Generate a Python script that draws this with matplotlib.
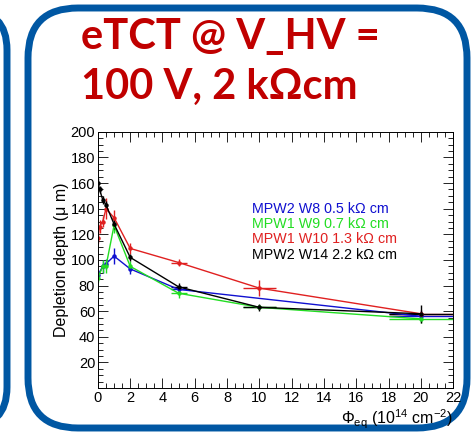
import numpy as np
import matplotlib.pyplot as plt
from matplotlib.patches import FancyBboxPatch
from matplotlib.ticker import MultipleLocator

plt.rcParams['font.family'] = ['Liberation Sans', 'DejaVu Sans']
plt.rcParams['mathtext.fontset'] = 'custom'
plt.rcParams['mathtext.rm'] = 'Liberation Sans'
plt.rcParams['mathtext.it'] = 'Liberation Sans:italic'

# ---- data ----
w8_x = [0, 0.3, 0.5, 1, 2, 5, 20]
w8_y = [88, 95, 97, 103, 93, 77, 56]
w8_yerr = [4, 5, 4, 6, 4, 3, 4]
w8_xerr = [0, 0, 0, 0, 0, 0.5, 2]

w9_x = [0, 0.3, 0.5, 1, 2, 5, 10, 20]
w9_y = [86, 95, 95, 127, 95, 74, 63, 54]
w9_yerr = [3, 5, 5, 6, 4, 4, 2, 3]
w9_xerr = [0, 0, 0, 0, 0, 0.5, 1, 2]

w10_x = [0, 0.1, 0.3, 0.5, 1, 2, 5, 10, 20]
w10_y = [117, 126, 130, 140, 133, 109, 98, 78, 58]
w10_yerr = [4, 5, 4, 8, 6, 4, 3, 6, 3]
w10_xerr = [0, 0, 0, 0, 0, 0, 0.5, 1, 2]

w14_x = [0, 0.1, 0.3, 0.5, 1, 2, 5, 10, 20]
w14_y = [160, 155, 147, 143, 128, 102, 79, 63, 58]
w14_yerr = [4, 3, 3, 3, 4, 3, 3, 3, 7]
w14_xerr = [0, 0, 0, 0, 0, 0, 0.5, 1, 2]

labels = ['MPW2 W8 0.5 k\u03a9 cm', 'MPW1 W9 0.7 k\u03a9 cm',
          'MPW1 W10 1.3 k\u03a9 cm', 'MPW2 W14 2.2 k\u03a9 cm']
colors = ['#1010d0', '#22dd22', '#e02020', '#000000']

fig = plt.figure(figsize=(4.73, 4.38), dpi=100)

# overlay in pixel coords for the rounded frames and title
bg = fig.add_axes([0, 0, 1, 1])
bg.set_xlim(0, 473)
bg.set_ylim(438, 0)
bg.axis('off')
frame_col = '#0057a3'
bg.add_patch(FancyBboxPatch((-60, 10), 67, 417, boxstyle='round,pad=0,rounding_size=40',
                            fill=False, ec=frame_col, lw=5))
bg.add_patch(FancyBboxPatch((28, 8), 439, 420, boxstyle='round,pad=0,rounding_size=50',
                            fill=False, ec=frame_col, lw=5))
bg.text(81, 49, 'eTCT @ V_HV =', color='#c00000', fontsize=30, fontweight='bold',
        family=['Lato', 'DejaVu Sans'], ha='left', va='baseline')
bg.text(81, 99, '100 V, 2 k\u03a9cm', color='#c00000', fontsize=30, fontweight='bold',
        family=['Lato', 'DejaVu Sans'], ha='left', va='baseline')

ax = fig.add_axes([0.207, 0.114, 0.751, 0.585])
ax.patch.set_alpha(0)

series = [(w8_x, w8_y, w8_xerr, w8_yerr), (w9_x, w9_y, w9_xerr, w9_yerr),
          (w10_x, w10_y, w10_xerr, w10_yerr), (w14_x, w14_y, w14_xerr, w14_yerr)]
for (x, y, xe, ye), c in zip(series, colors):
    ax.errorbar(x, y, xerr=xe, yerr=ye, color=c, lw=1.0, elinewidth=1.0,
                marker='o', ms=2.2, capsize=0)

ax.set_xlim(0, 22)
ax.set_ylim(0, 200)
ax.xaxis.set_major_locator(MultipleLocator(2))
ax.xaxis.set_minor_locator(MultipleLocator(0.5))
ax.yaxis.set_major_locator(MultipleLocator(20))
ax.yaxis.set_minor_locator(MultipleLocator(5))
ax.set_yticks([20, 40, 60, 80, 100, 120, 140, 160, 180, 200])
ax.tick_params(which='both', direction='in', top=True, right=True, labelsize=10.5, pad=2)
ax.tick_params(which='major', length=7, width=0.6)
ax.tick_params(which='minor', length=3.5, width=0.6)
for s in ax.spines.values():
    s.set_linewidth(0.7)

ax.set_ylabel('Depletion depth (\u03bc m)', fontsize=11.5, labelpad=1)
ax.set_xlabel(r'$\Phi_{\rm eq}$ (10$^{14}$ cm$^{-2}$)', fontsize=11.5, labelpad=1)
ax.xaxis.set_label_coords(1.0, -0.075)
ax.xaxis.label.set_ha('right')

for i, (lab, c) in enumerate(zip(labels, colors)):
    ax.text(0.434, 0.70 - i * 0.06, lab, color=c, fontsize=10.3,
            transform=ax.transAxes, va='center', ha='left')

fig.savefig('out.png', dpi=100)
